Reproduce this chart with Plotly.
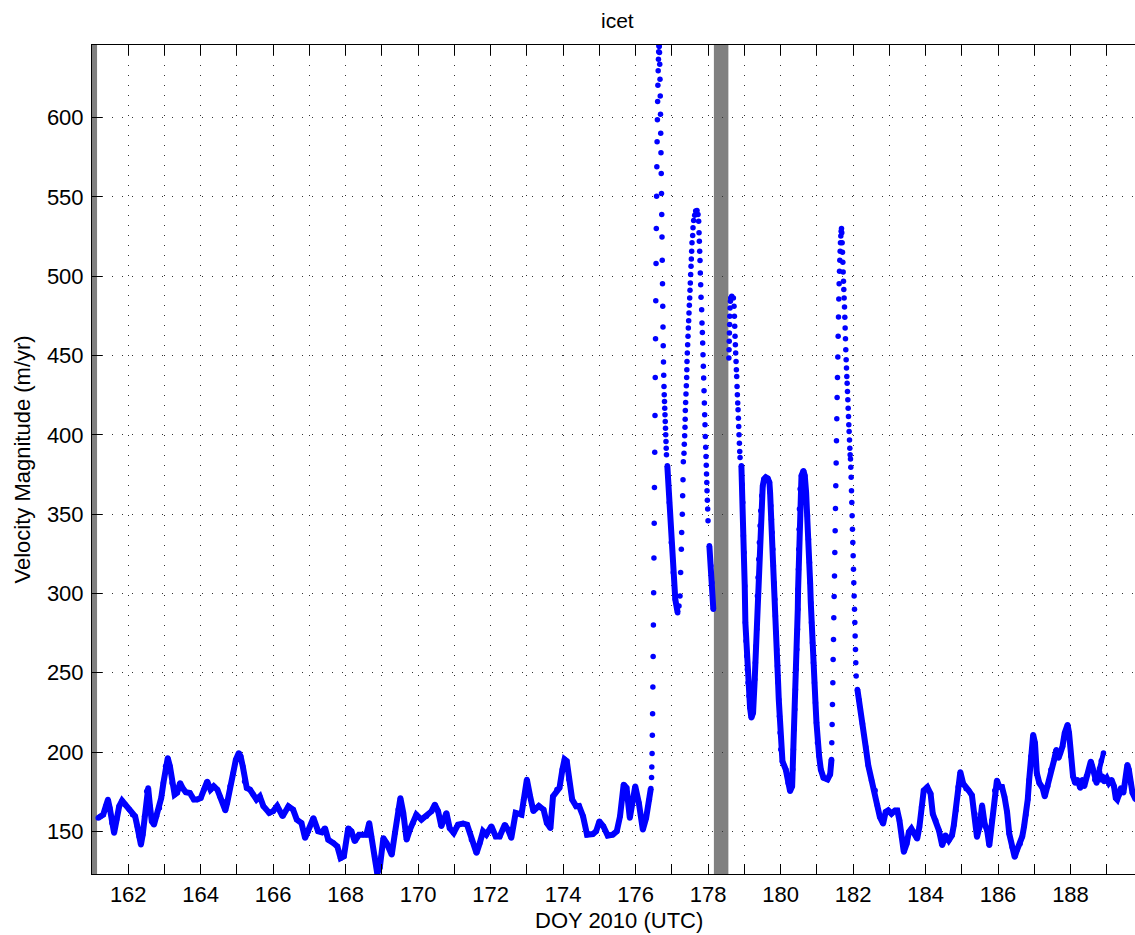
import plotly.graph_objects as go

# ---------------------------------------------------------------------------
# icet GPS record: day of year 2010 (UTC) and velocity magnitude (m/yr)
# ---------------------------------------------------------------------------

# 161 - 176.4: background flow
doy_pre = [
    161.17, 161.24, 161.31, 161.38, 161.44, 161.49, 161.55, 161.61, 161.68, 161.75,
    161.83, 161.92, 162.03, 162.12, 162.19, 162.25, 162.30, 162.35, 162.40, 162.45,
    162.51, 162.55, 162.60, 162.65, 162.71, 162.78, 162.86, 162.91, 162.97, 163.03,
    163.09, 163.15, 163.21, 163.28, 163.35, 163.43, 163.50, 163.59, 163.70, 163.81,
    163.90, 164.00, 164.09, 164.18, 164.27, 164.36, 164.46, 164.53, 164.60, 164.68,
    164.73, 164.81, 164.90, 164.97, 165.05, 165.10, 165.16, 165.21, 165.27, 165.36,
    165.45, 165.54, 165.63, 165.73, 165.89, 166.00, 166.11, 166.26, 166.42, 166.55,
    166.65, 166.78, 166.88, 166.97, 167.11, 167.24, 167.34, 167.43, 167.52, 167.66,
    167.77, 167.86, 167.95, 168.07, 168.16, 168.25, 168.37, 168.48, 168.57, 168.65,
    168.71, 168.80, 168.87, 168.94, 169.04, 169.13, 169.27, 169.36, 169.45, 169.51,
    169.59, 169.68, 169.77, 169.86, 169.95, 170.09, 170.23, 170.37, 170.46, 170.55,
    170.64, 170.78, 170.87, 170.98, 171.10, 171.24, 171.35, 171.47, 171.61, 171.70,
    171.79, 171.88, 172.02, 172.14, 172.25, 172.39, 172.48, 172.57, 172.69, 172.85,
    172.91, 173.00, 173.09, 173.18, 173.33, 173.46, 173.55, 173.65, 173.72, 173.83,
    173.90, 173.98, 174.04, 174.10, 174.16, 174.25, 174.36, 174.44, 174.55, 174.66,
    174.82, 174.91, 175.00, 175.11, 175.23, 175.37, 175.48, 175.57, 175.67, 175.75,
    175.84, 175.99, 176.09, 176.20, 176.29, 176.38, 176.42,
]
vel_pre = [
    158.4, 159.5, 160.5, 165.8, 170.0, 164.7, 155.3, 149.0, 157.4, 165.8,
    169.3, 166.8, 163.7, 160.5, 159.5, 153.2, 146.8, 141.6, 147.9, 159.5,
    175.2, 177.3, 165.8, 156.3, 154.2, 159.5, 164.7, 171.0, 180.5, 191.0,
    196.2, 191.0, 180.5, 173.1, 174.3, 180.5, 177.3, 174.6, 174.2, 170.0,
    170.0, 171.0, 176.3, 181.5, 176.3, 178.4, 176.3, 172.0, 168.9, 163.2,
    167.9, 178.4, 186.8, 195.2, 199.4, 197.3, 191.0, 181.5, 177.3, 176.3,
    173.1, 170.0, 172.0, 165.8, 161.6, 162.7, 166.0, 159.5, 165.8, 163.7,
    157.4, 155.3, 145.8, 150.0, 158.4, 150.0, 149.4, 152.0, 144.7, 142.6,
    140.5, 133.1, 134.2, 152.0, 150.0, 143.7, 147.9, 147.9, 147.9, 155.3,
    146.8, 134.0, 123.6, 127.0, 145.8, 142.6, 135.2, 149.0, 163.7, 171.0,
    161.6, 144.7, 151.0, 155.3, 160.5, 157.4, 159.5, 162.7, 166.9, 162.7,
    153.2, 161.6, 152.0, 149.0, 154.2, 154.9, 154.2, 144.7, 136.3, 142.6,
    150.0, 147.9, 153.2, 146.8, 146.8, 154.2, 151.0, 145.8, 161.6, 160.5,
    170.0, 182.7, 172.0, 162.7, 166.0, 163.7, 155.3, 152.0, 172.0, 176.4,
    177.4, 189.0, 195.4, 194.3, 182.7, 170.0, 165.8, 166.0, 159.5, 147.9,
    148.3, 150.0, 156.3, 153.2, 147.3, 147.9, 150.0, 159.5, 179.5, 177.4,
    158.4, 178.5, 167.9, 151.0, 158.4, 170.0, 177.0,
]

# 176.4 - 182.1: the fast-flow event
doy_event = [
    # rise to the first spike
    176.440, 176.447, 176.455, 176.462, 176.469, 176.477, 176.484, 176.491, 176.498, 176.506,
    176.513, 176.520, 176.528, 176.535, 176.542, 176.550, 176.557, 176.564, 176.571, 176.579,
    176.586, 176.593, 176.601, 176.608, 176.615, 176.623, 176.630, 176.637, 176.644,
    # fall from the first spike
    176.652, 176.659, 176.666, 176.673, 176.680, 176.687, 176.693, 176.700, 176.707, 176.714,
    176.721, 176.728, 176.735, 176.742, 176.749, 176.756, 176.762, 176.769, 176.776, 176.783,
    176.790, 176.797, 176.804, 176.811, 176.818, 176.825, 176.831, 176.838, 176.845, 176.852,
    176.875, 176.930, 176.985, 177.040, 177.095, 177.160,
    # second peak
    177.197, 177.225, 177.243, 177.262, 177.271, 177.289, 177.298, 177.308, 177.317, 177.335,
    177.344, 177.354, 177.363, 177.368, 177.372, 177.381, 177.390, 177.400, 177.409, 177.414,
    177.418, 177.427, 177.436, 177.446, 177.455, 177.464, 177.473, 177.483, 177.492, 177.501,
    177.510, 177.519, 177.529, 177.538, 177.547, 177.556, 177.575, 177.584, 177.602, 177.630,
    177.657, 177.694, 177.722, 177.740, 177.750, 177.759, 177.768, 177.777, 177.786, 177.796,
    177.805, 177.823, 177.832, 177.842, 177.851, 177.860, 177.869, 177.878, 177.888, 177.897,
    177.906, 177.915, 177.924, 177.934, 177.943, 177.950, 177.957, 177.964, 177.971, 177.980,
    177.989, 177.998,
    178.035, 178.072, 178.105, 178.145,
    # record resumes after the outage
    178.574, 178.578, 178.583, 178.588, 178.594, 178.598, 178.606, 178.615, 178.624, 178.652,
    178.698, 178.716, 178.726, 178.735, 178.744, 178.753, 178.762, 178.772, 178.781, 178.790,
    178.799, 178.808, 178.818, 178.827, 178.836, 178.845, 178.854, 178.864, 178.873, 178.882,
    178.919, 178.937, 178.956, 178.974, 178.993, 179.011, 179.029, 179.048, 179.066, 179.085,
    179.103, 179.131, 179.158, 179.195, 179.241, 179.287, 179.306, 179.324, 179.343, 179.361,
    179.379, 179.398, 179.416, 179.435, 179.453, 179.481, 179.508, 179.545, 179.591, 179.646,
    179.692, 179.711, 179.729, 179.748, 179.766, 179.785, 179.803, 179.821, 179.840, 179.858,
    179.877, 179.895, 179.913, 179.932, 179.950, 179.969, 179.987, 180.006, 180.052, 180.144,
    180.208, 180.263, 180.319, 180.337, 180.355, 180.374, 180.392, 180.411, 180.429, 180.448,
    180.466, 180.475, 180.484, 180.494, 180.503, 180.512, 180.521, 180.540, 180.577, 180.632,
    180.668, 180.705, 180.742, 180.770, 180.798, 180.816, 180.834, 180.853, 180.880, 180.908,
    180.935, 180.963, 180.991, 181.018, 181.064, 181.110, 181.184, 181.295, 181.368, 181.405,
    # last peak
    181.414, 181.423, 181.432, 181.442, 181.451, 181.460, 181.469, 181.478, 181.488, 181.497,
    181.506, 181.515, 181.524, 181.534, 181.543, 181.552, 181.561, 181.570, 181.580, 181.589,
    181.598, 181.607, 181.616, 181.626, 181.635, 181.644, 181.653, 181.662, 181.672, 181.681,
    181.690, 181.699, 181.708, 181.718, 181.727, 181.736, 181.745, 181.754, 181.764, 181.773,
    181.782, 181.791, 181.800, 181.810, 181.819, 181.828, 181.837, 181.846, 181.856, 181.865,
    181.874, 181.883, 181.892, 181.902, 181.911, 181.920, 181.929, 181.938, 181.948, 181.957,
    181.966, 181.975, 181.984, 181.994, 182.003, 182.012, 182.021, 182.030, 182.040, 182.049,
    182.058, 182.067, 182.076, 182.086,
]
vel_event = [
    184.0, 190.6, 199.0, 210.6, 224.1, 241.0, 260.3, 280.1, 300.5, 322.4,
    344.3, 366.8, 389.0, 412.2, 436.2, 460.6, 484.6, 508.0, 530.1, 550.5,
    569.0, 584.8, 598.7, 610.1, 620.4, 629.5, 636.8, 641.5, 645.3,
    644.8, 641.0, 633.7, 624.2, 613.7, 602.1, 590.1, 577.9, 564.8, 552.2,
    538.9, 524.8, 510.1, 495.2, 481.0, 468.0, 456.2, 445.9, 437.5, 430.5,
    425.3, 421.0, 416.8, 412.6, 408.4, 404.2, 400.0, 395.8, 391.6, 387.4,
    380.5, 357.4, 332.1, 313.2, 296.3, 287.9,
    292.1, 298.4, 313.2, 327.9, 338.4, 350.0, 361.6, 371.7, 383.1, 388.4,
    394.1, 399.4, 404.8, 409.9, 415.4, 420.4, 425.7, 431.0, 436.2, 441.1,
    446.3, 451.6, 456.8, 462.1, 467.4, 472.0, 476.8, 481.7, 486.3, 491.2,
    495.8, 501.1, 506.3, 510.9, 515.8, 521.1, 525.7, 530.5, 535.2, 538.5,
    541.1, 541.5, 539.0, 534.7, 527.4, 522.1, 515.8, 509.9, 502.1, 494.7,
    486.7, 478.9, 470.5, 464.6, 457.9, 450.5, 443.2, 435.8, 427.8, 420.0,
    412.6, 406.3, 398.9, 392.2, 386.3, 380.9, 375.3, 370.0, 364.7, 358.8,
    353.2, 345.8,
    330.0, 317.4, 306.8, 290.0,
    448.4, 453.7, 459.0, 464.2, 469.5, 474.7, 480.0, 484.2, 486.3, 487.4,
    486.3, 481.0, 474.7, 468.4, 462.1, 456.8, 451.6, 446.3, 441.1, 436.8,
    430.5, 425.3, 420.0, 415.8, 410.5, 405.3, 400.0, 394.7, 389.5, 385.7,
    380.5, 368.9, 357.4, 336.3, 325.8, 304.7, 281.6, 270.0, 260.5, 252.1,
    243.7, 235.3, 227.9, 221.6, 224.7, 245.8, 256.3, 266.8, 277.4, 298.4,
    310.0, 321.6, 332.1, 342.6, 352.1, 361.6, 367.9, 372.1, 373.2, 372.5,
    370.0, 363.7, 355.3, 346.8, 338.4, 327.9, 317.4, 306.8, 296.3, 285.8,
    275.3, 264.7, 254.2, 243.7, 233.2, 222.6, 212.1, 201.6, 194.2, 188.9,
    180.5, 175.3, 178.4, 189.0, 201.6, 214.2, 226.8, 239.5, 252.1, 264.7,
    277.4, 290.0, 302.6, 315.3, 327.9, 340.5, 353.2, 365.8, 374.2, 377.4,
    374.2, 363.7, 349.0, 334.2, 319.5, 306.8, 294.2, 281.6, 268.9, 256.3,
    243.7, 231.1, 218.4, 205.8, 197.4, 189.0, 183.8, 182.7, 185.9, 195.3,
    205.8, 217.4, 230.0, 243.7, 258.4, 271.0, 284.7, 298.0, 311.0, 325.8,
    339.5, 353.6, 367.9, 382.2, 396.2, 410.1, 423.6, 436.2, 449.1, 462.1,
    474.3, 485.7, 495.2, 503.2, 510.1, 515.8, 521.1, 525.3, 528.4, 530.1,
    527.4, 521.1, 515.2, 508.8, 502.7, 496.8, 491.6, 486.3, 480.6, 474.1,
    467.4, 460.6, 453.7, 447.4, 442.1, 436.8, 432.6, 427.4, 422.1, 416.8,
    411.6, 406.3, 402.1, 396.8, 391.6, 387.4, 384.7, 379.5, 373.2, 364.7,
    357.4, 349.0, 340.5, 332.1, 323.7, 315.3, 306.8, 298.4, 290.0, 281.6,
    273.2, 264.7, 256.3, 247.9,
]

# 182.1 - end of record
doy_post = [
    182.12, 182.17, 182.26, 182.35, 182.42, 182.51, 182.61, 182.67, 182.74, 182.83,
    182.90, 182.97, 183.06, 183.16, 183.22, 183.28, 183.34, 183.40, 183.48, 183.54,
    183.61, 183.68, 183.77, 183.83, 183.89, 183.95, 184.05, 184.14, 184.20, 184.28,
    184.37, 184.46, 184.55, 184.64, 184.73, 184.78, 184.84, 184.90, 184.96, 185.04,
    185.12, 185.19, 185.28, 185.36, 185.42, 185.49, 185.56, 185.63, 185.70, 185.76,
    185.83, 185.91, 185.97, 186.04, 186.11, 186.18, 186.25, 186.31, 186.39, 186.46,
    186.52, 186.61, 186.67, 186.72, 186.77, 186.82, 186.86, 186.91, 186.97, 187.02,
    187.07, 187.14, 187.23, 187.29, 187.37, 187.46, 187.55, 187.61, 187.67, 187.72,
    187.78, 187.84, 187.92, 187.96, 188.01, 188.07, 188.13, 188.19, 188.27, 188.33,
    188.38, 188.44, 188.51, 188.56, 188.60, 188.67, 188.72, 188.79, 188.83, 188.88,
    188.93, 189.00, 189.06, 189.13, 189.20, 189.25, 189.29, 189.34, 189.39, 189.46,
    189.52, 189.57, 189.61, 189.66, 189.71, 189.80,
]
vel_post = [
    239.5, 232.6, 217.9, 203.2, 191.6, 182.1, 175.8, 166.4, 159.0, 154.8,
    162.2, 163.2, 161.1, 163.2, 163.2, 156.9, 146.4, 137.0, 142.2, 149.6,
    151.7, 149.6, 145.4, 152.7, 165.3, 175.8, 177.9, 173.7, 161.1, 156.9,
    150.6, 141.2, 147.5, 144.3, 147.5, 153.8, 163.2, 177.9, 187.4, 180.0,
    176.9, 175.8, 172.7, 161.1, 146.4, 152.7, 166.4, 154.8, 150.6, 141.2,
    156.9, 175.8, 182.1, 177.9, 177.9, 171.6, 162.2, 148.5, 140.1, 133.8,
    138.0, 142.2, 146.8, 153.2, 160.5, 170.0, 182.6, 197.3, 210.9, 205.7,
    186.8, 180.5, 177.3, 172.0, 178.4, 188.9, 195.2, 201.5, 196.2, 199.4,
    203.6, 212.0, 217.2, 212.0, 197.3, 184.7, 180.5, 182.6, 177.3, 182.6,
    178.4, 184.7, 188.9, 194.1, 191.0, 182.6, 180.5, 188.0, 182.6, 184.7,
    181.5, 183.6, 180.5, 182.6, 178.4, 171.0, 170.0, 173.1, 177.3, 174.3,
    182.6, 192.0, 188.9, 180.5, 174.3, 170.0,
]

# short separate run of samples near DOY 188.85
doy_spur = [188.80, 188.85, 188.91]
vel_spur = [189.5, 194.5, 199.4]

# intervals with no data (shaded)
gaps = [(161.0, 161.14), (178.16, 178.56)]

# fast-changing stretches where individual samples stand apart as dots
dot_spans = [(176.43, 176.86), (177.19, 178.0), (178.57, 178.89), (181.41, 182.09)]

x_ticks = list(range(161, 191))
y_ticks = [150, 200, 250, 300, 350, 400, 450, 500, 550, 600]

# ---------------------------------------------------------------------------
doy = doy_pre + doy_event + doy_post
vel = vel_pre + vel_event + vel_post


def is_dot(t):
    return any(a <= t <= b for a, b in dot_spans)


# continuous trace: break across dotted stretches and data gaps
line_x, line_y = [], []
prev = None
for t, v in zip(doy, vel):
    if is_dot(t):
        if line_x and line_x[-1] is not None:
            line_x.append(None)
            line_y.append(None)
        prev = None
        continue
    if prev is not None and t - prev > 0.2:
        line_x.append(None)
        line_y.append(None)
    line_x.append(t)
    line_y.append(v)
    prev = t

BLUE = "#0000FF"
FONT = "Liberation Sans, Arial, Helvetica, sans-serif"

fig = go.Figure()

for x0, x1 in gaps:
    fig.add_shape(type="rect", xref="x", yref="paper", x0=x0, x1=x1, y0=0, y1=1,
                  fillcolor="#808080", line_width=0, layer="below")

fig.add_trace(go.Scatter(x=line_x, y=line_y, mode="lines",
                         line=dict(color=BLUE, width=6), hoverinfo="skip",
                         showlegend=False))
fig.add_trace(go.Scatter(x=doy, y=vel, mode="markers",
                         marker=dict(color=BLUE, size=5.5, line_width=0),
                         showlegend=False))
fig.add_trace(go.Scatter(x=doy_spur, y=vel_spur, mode="lines+markers",
                         line=dict(color=BLUE, width=5),
                         marker=dict(color=BLUE, size=5.5, line_width=0),
                         showlegend=False))

grid = dict(showgrid=True, gridcolor="#333333", gridwidth=1, griddash="1px,9px",
            zeroline=False, showline=True, linecolor="black", linewidth=1,
            ticks="inside", ticklen=10, tickwidth=1, tickcolor="black",
            tickfont=dict(family=FONT, size=22, color="black"))

fig.update_xaxes(range=[161.0, 189.78], tickvals=x_ticks,
                 ticktext=[str(d) if d % 2 == 0 else "" for d in x_ticks],
                 mirror="allticks", ticklabelstandoff=1, **grid)
fig.update_yaxes(range=[123.1, 645.8], tickvals=y_ticks,
                 ticktext=[str(v) for v in y_ticks],
                 mirror=False, ticklabelstandoff=3, **grid)

fig.update_layout(
    width=1135, height=935,
    margin=dict(l=92, r=0, t=45, b=61, pad=0),
    paper_bgcolor="white", plot_bgcolor="white",
    font=dict(family=FONT, size=21, color="black"),
    annotations=[
        dict(text="icet", xref="paper", yref="paper", x=0.5043, y=1.029,
             xanchor="center", yanchor="middle", showarrow=False,
             font=dict(family=FONT, size=21, color="black")),
        dict(text="DOY 2010 (UTC)", xref="paper", yref="paper", x=0.5053, y=-0.0565,
             xanchor="center", yanchor="middle", showarrow=False,
             font=dict(family=FONT, size=22, color="black")),
        dict(text="Velocity Magnitude (m/yr)", xref="paper", yref="paper",
             x=-0.0671, y=0.5, textangle=-90, xanchor="center", yanchor="middle",
             showarrow=False, font=dict(family=FONT, size=22, color="black")),
    ],
)

fig.write_html("out.html")
